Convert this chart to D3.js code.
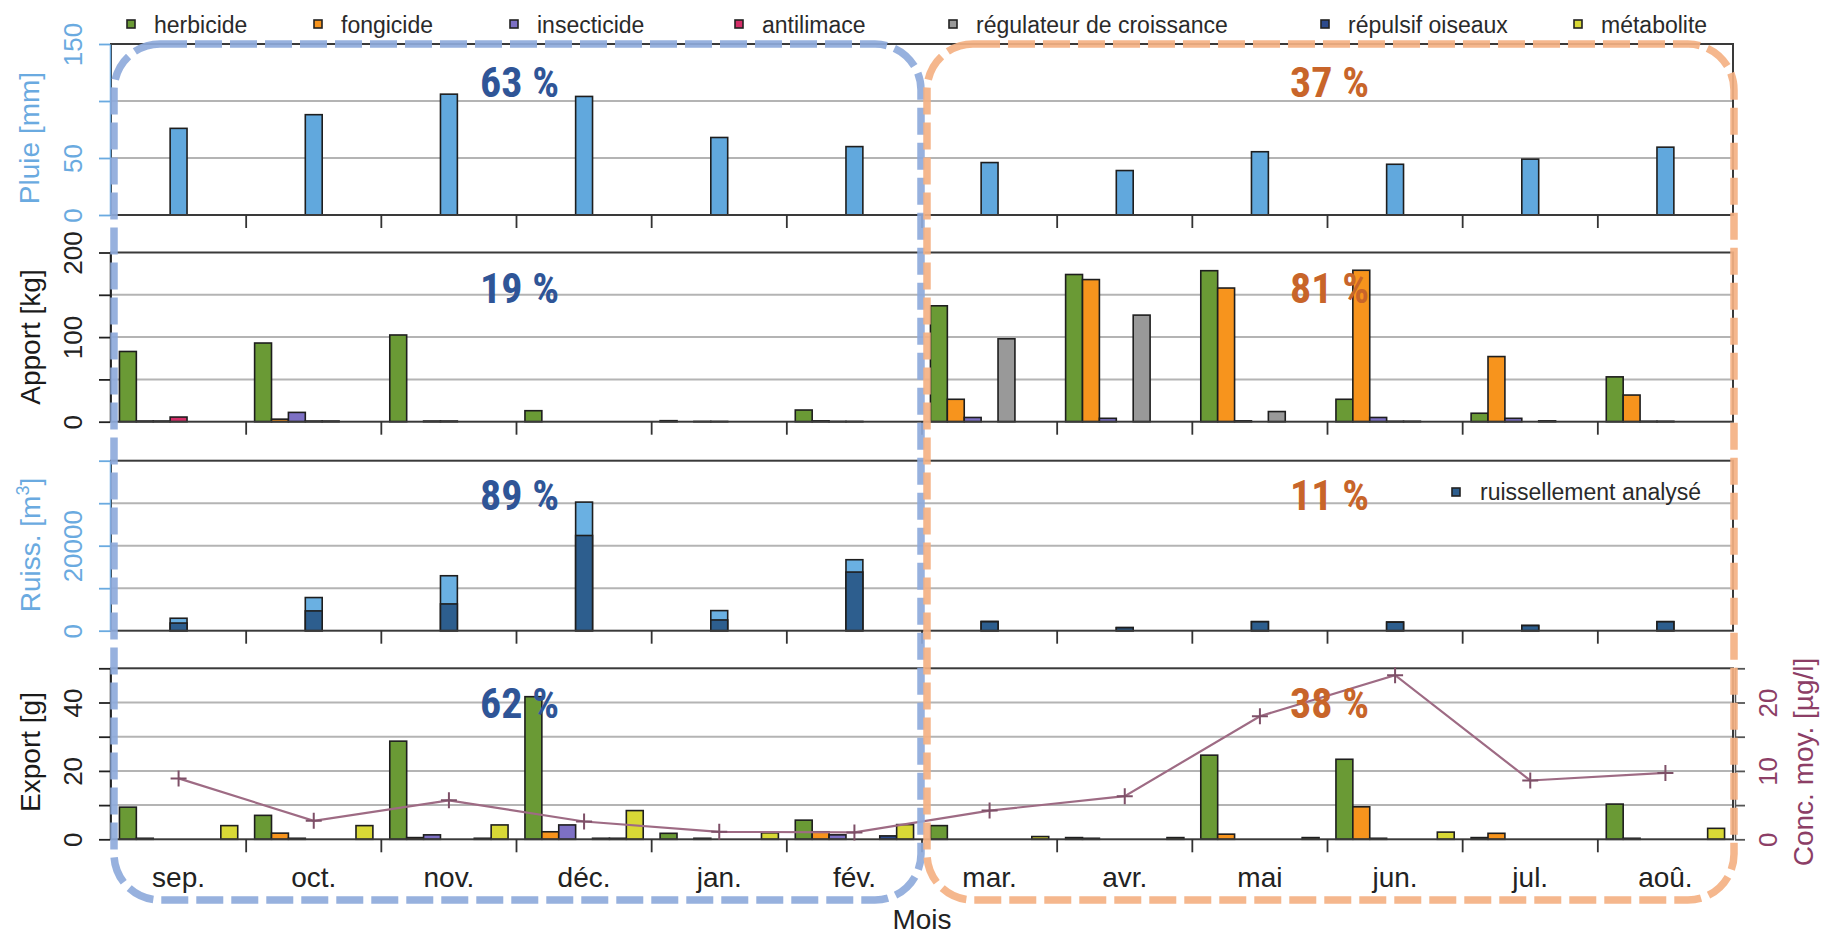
<!DOCTYPE html>
<html>
<head>
<meta charset="utf-8">
<script src="https://cdn.jsdelivr.net/npm/d3@7"></script>
<style>
  html, body { margin: 0; padding: 0; background: #fff; }
  svg { display: block; font-family: "Liberation Sans", Arial, sans-serif; }
</style>
</head>
<body>
<svg id="chart" width="1822" height="934"></svg>
<script>
// ---- data -------------------------------------------------------------
const months = ["sep.", "oct.", "nov.", "déc.", "jan.", "fév.", "mar.", "avr.", "mai", "jun.", "jul.", "aoû."];
const categories = ["herbicide", "fongicide", "insecticide", "antilimace", "régulateur de croissance", "répulsif oiseaux", "métabolite"];

// monthly rainfall [mm]
const rainMm = [76, 88, 106, 104, 68, 60, 46, 39, 55.5, 44.5, 49, 59.5];

// applied quantities [kg] per substance class (null = nothing applied)
const apportHerbicide   = [83, 93, 102.5, 13, 1.2, 13.8, 137, 174, 178.5, 26.5, 10, 53];
const apportFongicide   = [0.8, 3, null, null, null, 1, 26.5, 168, 158, 179, 77, 31.5];
const apportInsecticide = [0.8, 11, 0.8, null, 0.3, 0.3, 5, 4, 1, 5, 4, 0.5];
const apportAntilimace  = [5.5, 0.8, 0.8, null, 0.3, 0.3, null, null, null, 0.5, null, 0.5];
const apportRegulateur  = [null, 0.8, null, null, null, null, 98, 126, 12, 0.5, 1, null];
const apportRepulsif    = [null, null, null, null, null, null, null, null, null, null, null, null];
const apportMetabolite  = [null, null, null, null, null, null, null, null, null, null, null, null];

// runoff volume [m3]: total and analysed part
const ruissTotal    = [2930, 7800, 12930, 30260, 4730, 16700, 2200, 750, 2150, 2050, 1250, 2150];
const ruissAnalyses = [1800, 4660, 6300, 22400, 2530, 13800, 2100, 700, 2100, 2000, 1200, 2100];

// exported loads [g] per substance class
const exportHerbicide   = [9.4, 7.0, 28.7, 41.7, 1.75, 5.6, 4.0, 0.5, 24.6, 23.4, 0.5, 10.3];
const exportFongicide   = [0.3, 1.8, 0.5, 2.2, null, 2.2, null, 0.3, 1.5, 9.5, 1.75, 0.3];
const exportInsecticide = [null, 0.3, 1.3, 4.2, 0.3, 1.3, null, null, null, 0.3, null, null];
const exportAntilimace  = [null, null, null, null, null, null, null, null, null, null, null, null];
const exportRegulateur  = [null, null, null, 0.3, null, null, null, null, null, null, null, null];
const exportRepulsif    = [null, null, 0.3, 0.3, null, 1.0, null, null, null, null, null, null];
const exportMetabolite  = [4.0, 4.0, 4.2, 8.4, 1.9, 4.3, 0.8, 0.5, 0.5, 2.1, null, 3.2];

// mean concentration [µg/l]
const concMoy = [8.9, 2.7, 5.7, 2.6, 1.1, 1.0, 4.2, 6.3, 18.0, 24.0, 8.6, 9.7];

// share of each half-year (sep.–fév. / mar.–aoû.) per panel
const pctAutomne = ["63 %", "19 %", "89 %", "62 %"];
const pctPrintemps = ["37 %", "81 %", "11 %", "38 %"];

// axis ticks and the ticks that carry a label
const rainTicks = [0, 50, 100, 150],            rainLabels = [0, 50, 150];
const apportTicks = [0, 50, 100, 150, 200],     apportLabels = [0, 100, 200];
const ruissTicks = [0, 10000, 20000, 30000, 40000], ruissLabels = [0, 20000];
const exportTicks = [0, 10, 20, 30, 40, 50],    exportLabels = [0, 20, 40];
const concTicks = [0, 5, 10, 15, 20, 25],       concLabels = [0, 10, 20];

// ---- styling ----------------------------------------------------------
const catColors = ["#6a9a35", "#f7941d", "#7d70c4", "#d42e68", "#999999", "#2c4a8c", "#d8d836"];
const rainColor = "#61a8dd";
const ruissLight = "#6ab0e2";
const ruissDark = "#2d5e8e";
const lightBlueText = "#6aaae0";
const concColor = "#9e6b84";
const concText = "#8c3e66";
const pctBlue = "#2f5597";
const pctOrange = "#c8652a";

const svg = d3.select("#chart");
const x0 = 111, x1 = 1733;

const xMonth = d3.scaleBand().domain(months).range([x0, x1]).paddingInner(0).paddingOuter(0);
const bw = xMonth.bandwidth();
const xSlot = d3.scaleBand().domain(categories).range([bw / 16, bw - bw / 16]).paddingInner(0).paddingOuter(0);
const midCat = categories[3];

const panels = [
  { top: 44,    bottom: 215 },
  { top: 252.5, bottom: 421.7 },
  { top: 460.7, bottom: 630.7 },
  { top: 668.3, bottom: 839.3 }
];

const yRain   = d3.scaleLinear().domain([0, 150]).range([panels[0].bottom, panels[0].top]);
const yApport = d3.scaleLinear().domain([0, 200]).range([panels[1].bottom, panels[1].top]);
const yRuiss  = d3.scaleLinear().domain([0, 40000]).range([panels[2].bottom, panels[2].top]);
const yExport = d3.scaleLinear().domain([0, 50]).range([panels[3].bottom, panels[3].top]);
const yConc   = d3.scaleLinear().domain([0, 25]).range([panels[3].bottom, panels[3].top]);

// ---- grid lines -------------------------------------------------------
function grid(scale, ticks) {
  const inner = ticks.slice(1, -1);
  svg.append("g").selectAll("line").data(inner).join("line")
    .attr("x1", x0).attr("x2", x1)
    .attr("y1", d => scale(d)).attr("y2", d => scale(d))
    .attr("stroke", "#b4b4b4").attr("stroke-width", 2);
}
grid(yRain, rainTicks);
grid(yApport, apportTicks);
grid(yRuiss, ruissTicks);
grid(yExport, exportTicks);

// ---- bars -------------------------------------------------------------
function groupedBars(scale, series) {
  const g = svg.append("g");
  series.forEach((vals, ci) => {
    const rows = months.map((m, i) => ({ m, v: vals[i] })).filter(d => d.v != null);
    g.append("g").selectAll("rect").data(rows).join("rect")
      .attr("x", d => xMonth(d.m) + xSlot(categories[ci]))
      .attr("width", xSlot.bandwidth())
      .attr("y", d => scale(d.v))
      .attr("height", d => scale(0) - scale(d.v))
      .attr("fill", catColors[ci])
      .attr("stroke", "#1e1e1e").attr("stroke-width", 1.6);
  });
}

// rainfall
svg.append("g").selectAll("rect").data(months.map((m, i) => ({ m, v: rainMm[i] }))).join("rect")
  .attr("x", d => xMonth(d.m) + xSlot(midCat))
  .attr("width", xSlot.bandwidth())
  .attr("y", d => yRain(d.v))
  .attr("height", d => yRain(0) - yRain(d.v))
  .attr("fill", rainColor).attr("stroke", "#1e1e1e").attr("stroke-width", 1.6);

groupedBars(yApport, [apportHerbicide, apportFongicide, apportInsecticide, apportAntilimace,
                      apportRegulateur, apportRepulsif, apportMetabolite]);

// runoff: total behind, analysed part in front
const ruissRows = months.map((m, i) => ({ m, total: ruissTotal[i], an: ruissAnalyses[i] }));
svg.append("g").selectAll("rect").data(ruissRows).join("rect")
  .attr("x", d => xMonth(d.m) + xSlot(midCat))
  .attr("width", xSlot.bandwidth())
  .attr("y", d => yRuiss(d.total))
  .attr("height", d => yRuiss(0) - yRuiss(d.total))
  .attr("fill", ruissLight).attr("stroke", "#1e1e1e").attr("stroke-width", 1.6);
svg.append("g").selectAll("rect").data(ruissRows).join("rect")
  .attr("x", d => xMonth(d.m) + xSlot(midCat))
  .attr("width", xSlot.bandwidth())
  .attr("y", d => yRuiss(d.an))
  .attr("height", d => yRuiss(0) - yRuiss(d.an))
  .attr("fill", ruissDark).attr("stroke", "#1e1e1e").attr("stroke-width", 1.6);

groupedBars(yExport, [exportHerbicide, exportFongicide, exportInsecticide, exportAntilimace,
                      exportRegulateur, exportRepulsif, exportMetabolite]);

// ---- panel frames and month ticks -------------------------------------
panels.forEach(p => {
  svg.append("rect")
    .attr("x", x0).attr("y", p.top).attr("width", x1 - x0).attr("height", p.bottom - p.top)
    .attr("fill", "none").attr("stroke", "#3a3a3a").attr("stroke-width", 2);
  svg.append("g").selectAll("line").data(months.slice(1)).join("line")
    .attr("x1", d => xMonth(d)).attr("x2", d => xMonth(d))
    .attr("y1", p.bottom).attr("y2", p.bottom + 13)
    .attr("stroke", "#333").attr("stroke-width", 1.8);
});

// ---- y axes -----------------------------------------------------------
function leftAxis(scale, ticks, labels, color, fmt) {
  const g = svg.append("g").attr("transform", `translate(${x0 - 1},0)`)
    .call(d3.axisLeft(scale).tickValues(ticks).tickSize(11).tickSizeOuter(0)
      .tickFormat(d => labels.includes(d) ? fmt(d) : ""));
  g.select(".domain").attr("stroke", color).attr("stroke-width", 1.5);
  g.selectAll(".tick line").attr("stroke", color).attr("stroke-width", 1.8);
  g.selectAll(".tick text")
    .attr("x", null).attr("dy", null)
    .attr("transform", "translate(-28,0) rotate(-90)")
    .attr("text-anchor", "middle")
    .attr("fill", color).attr("font-size", 26)
    .attr("font-family", '"Liberation Sans", Arial, sans-serif');
  return g;
}
const fmtInt = d3.format("d");
leftAxis(yRain, rainTicks, rainLabels, lightBlueText, fmtInt);
leftAxis(yApport, apportTicks, apportLabels, "#222", fmtInt);
leftAxis(yRuiss, ruissTicks, ruissLabels, lightBlueText, fmtInt);
leftAxis(yExport, exportTicks, exportLabels, "#222", fmtInt);

const rAxis = svg.append("g").attr("transform", `translate(${x1 + 2},0)`)
  .call(d3.axisRight(yConc).tickValues(concTicks).tickSize(10).tickSizeOuter(0)
    .tickFormat(d => concLabels.includes(d) ? fmtInt(d) : ""));
rAxis.select(".domain").attr("stroke", "#555").attr("stroke-width", 1.5);
rAxis.selectAll(".tick line").attr("stroke", "#555").attr("stroke-width", 1.8);
rAxis.selectAll(".tick text")
  .attr("x", null).attr("dy", null)
  .attr("transform", "translate(42,0) rotate(-90)")
  .attr("text-anchor", "middle")
  .attr("fill", concText).attr("font-size", 26)
  .attr("font-family", '"Liberation Sans", Arial, sans-serif');

// axis titles (rotated)
function yTitle(x, y, color) {
  return svg.append("text")
    .attr("transform", `translate(${x},${y}) rotate(-90)`)
    .attr("text-anchor", "middle")
    .attr("font-size", 28).attr("fill", color);
}
yTitle(39, 138, lightBlueText).text("Pluie [mm]");
yTitle(40, 337, "#1a1a1a").text("Apport [kg]");
const tR = yTitle(40, 545, lightBlueText);
tR.append("tspan").text("Ruiss. [m");
tR.append("tspan").attr("dy", -11).attr("font-size", 18).text("3");
tR.append("tspan").attr("dy", 11).text("]");
yTitle(40, 752, "#1a1a1a").text("Export [g]");
yTitle(1813, 762, concText).text("Conc. moy. [µg/l]");

// month labels and x title
svg.append("g").selectAll("text").data(months).join("text")
  .attr("x", d => xMonth(d) + bw / 2).attr("y", 887)
  .attr("text-anchor", "middle").attr("font-size", 28).attr("fill", "#222")
  .text(d => d);
svg.append("text").attr("x", (x0 + x1) / 2).attr("y", 929)
  .attr("text-anchor", "middle").attr("font-size", 28).attr("fill", "#222").text("Mois");

// ---- concentration line -----------------------------------------------
const concPts = months.map((m, i) => [xMonth(m) + bw / 2, yConc(concMoy[i])]);
svg.append("path").datum(concPts)
  .attr("d", d3.line())
  .attr("fill", "none").attr("stroke", concColor).attr("stroke-width", 2.2);
svg.append("g").selectAll("path").data(concPts).join("path")
  .attr("d", d => `M${d[0] - 8},${d[1]}h16M${d[0]},${d[1] - 8}v16`)
  .attr("stroke", "#7e5068").attr("stroke-width", 2).attr("fill", "none");

// ---- half-year frames ---------------------------------------------------
svg.append("rect")
  .attr("x", 114).attr("y", 44).attr("width", 807).attr("height", 856).attr("rx", 46)
  .attr("fill", "none").attr("stroke", "#8eaadb").attr("stroke-width", 7.5)
  .attr("stroke-dasharray", "27 8").attr("opacity", 0.92);
svg.append("rect")
  .attr("x", 927).attr("y", 44).attr("width", 807).attr("height", 856).attr("rx", 46)
  .attr("fill", "none").attr("stroke", "#f4b183").attr("stroke-width", 7.5)
  .attr("stroke-dasharray", "27 8").attr("opacity", 0.92);

// ---- percentages ---------------------------------------------------------
const pctY = [97, 303, 510, 718];
const pctFont = '"Liberation Sans Narrow", "Arial Narrow", "Roboto Condensed", "Liberation Sans", sans-serif';
svg.append("g").selectAll("text").data(pctAutomne).join("text")
  .attr("x", xMonth(months[3]) + 3).attr("y", (d, i) => pctY[i])
  .attr("text-anchor", "middle").attr("font-size", 42).attr("font-weight", "bold")
  .attr("font-family", pctFont).attr("fill", pctBlue).text(d => d);
svg.append("g").selectAll("text").data(pctPrintemps).join("text")
  .attr("x", xMonth(months[9]) + 2).attr("y", (d, i) => pctY[i])
  .attr("text-anchor", "middle").attr("font-size", 42).attr("font-weight", "bold")
  .attr("font-family", pctFont).attr("fill", pctOrange).text(d => d);

// ---- legends ---------------------------------------------------------------
const legendX = [131, 318, 514, 739, 953, 1325, 1578];
const leg = svg.append("g").selectAll("g").data(categories).join("g")
  .attr("transform", (d, i) => `translate(${legendX[i]},0)`);
leg.append("rect").attr("x", -4).attr("y", 20).attr("width", 8).attr("height", 8)
  .attr("fill", (d, i) => catColors[i]).attr("stroke", "#222").attr("stroke-width", 1.6);
leg.append("text").attr("x", 23).attr("y", 33).attr("font-size", 23).attr("fill", "#2a2a2a")
  .text(d => d);

const leg2 = svg.append("g").attr("transform", "translate(1456,0)");
leg2.append("rect").attr("x", -4).attr("y", 488).attr("width", 8).attr("height", 8)
  .attr("fill", ruissDark).attr("stroke", "#222").attr("stroke-width", 1.6);
leg2.append("text").attr("x", 24).attr("y", 500).attr("font-size", 23).attr("fill", "#2a2a2a")
  .text("ruissellement analysé");
</script>
</body>
</html>
